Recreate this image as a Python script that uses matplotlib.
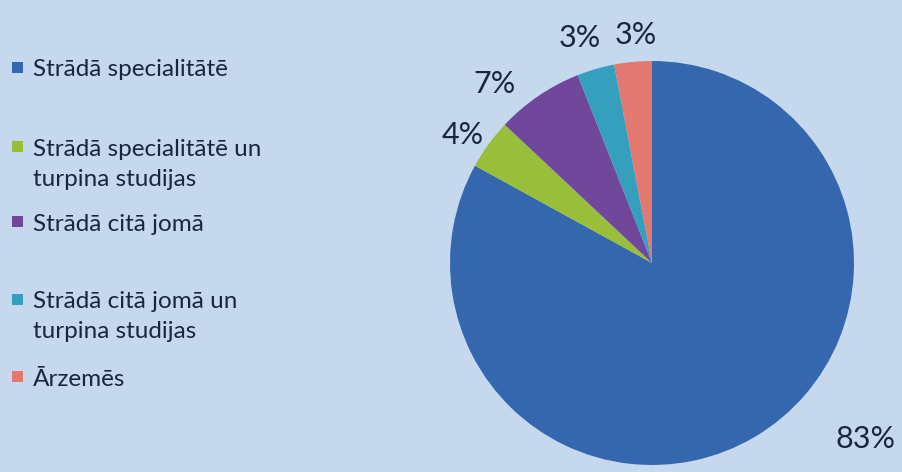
import numpy as np
import matplotlib
matplotlib.use("Agg")
import matplotlib.pyplot as plt
from matplotlib.patches import Rectangle

# data
categories = [
    "Strādā specialitātē",
    "Strādā specialitātē un\nturpina studijas",
    "Strādā citā jomā",
    "Strādā citā jomā un\nturpina studijas",
    "Ārzemēs",
]
shares = [83, 4, 7, 3, 3]
pct_labels = ["83%", "4%", "7%", "3%", "3%"]

colors = ["#3467AE", "#98BE3A", "#70479A", "#35A0BE", "#E2786F"]
bg = "#C6D8EE"
text_col = "#1C263A"

# label placement: (angle shift in degrees, radial distance)
label_pos = [(20, 1.37), (2, 1.13), (7, 1.18), (1.5, 1.17), (-1.4, 1.13)]
# legend: y of first text line (figure pixels from top)
legend_y = [68, 147, 222, 300, 377]
line_gap = 30

W, H = 903, 472
fig = plt.figure(figsize=(W / 100, H / 100), dpi=100, facecolor=bg)
plt.rcParams["font.family"] = ["Lato", "DejaVu Sans"]

cx, cy, r = 652, 263, 202
ax = fig.add_axes([(cx - r) / W, 1 - (cy + r) / H, 2 * r / W, 2 * r / H])
ax.set_facecolor(bg)

wedges, _ = ax.pie(shares, colors=colors, startangle=90, counterclock=False,
                   radius=1, wedgeprops=dict(linewidth=0))
ax.set_xlim(-1, 1)
ax.set_ylim(-1, 1)
ax.set_aspect("auto")
ax.axis("off")

for w, lab, (dang, dist) in zip(wedges, pct_labels, label_pos):
    mid = np.deg2rad((w.theta1 + w.theta2) / 2 + dang)
    ax.text(dist * np.cos(mid), dist * np.sin(mid), lab, ha="center", va="center",
            fontsize=22, color=text_col, clip_on=False)

# manual legend (Excel style, uneven spacing)
for cat, col, y in zip(categories, colors, legend_y):
    fig.patches.append(Rectangle((12 / W, 1 - (y + 5) / H), 11 / W, 11 / H,
                                 transform=fig.transFigure, facecolor=col,
                                 edgecolor="none"))
    for i, line in enumerate(cat.split("\n")):
        fig.text(33 / W, 1 - (y + i * line_gap) / H, line, ha="left", va="center_baseline",
                 fontsize=17.5, color=text_col)

fig.savefig("out.png", dpi=100, facecolor=bg)
